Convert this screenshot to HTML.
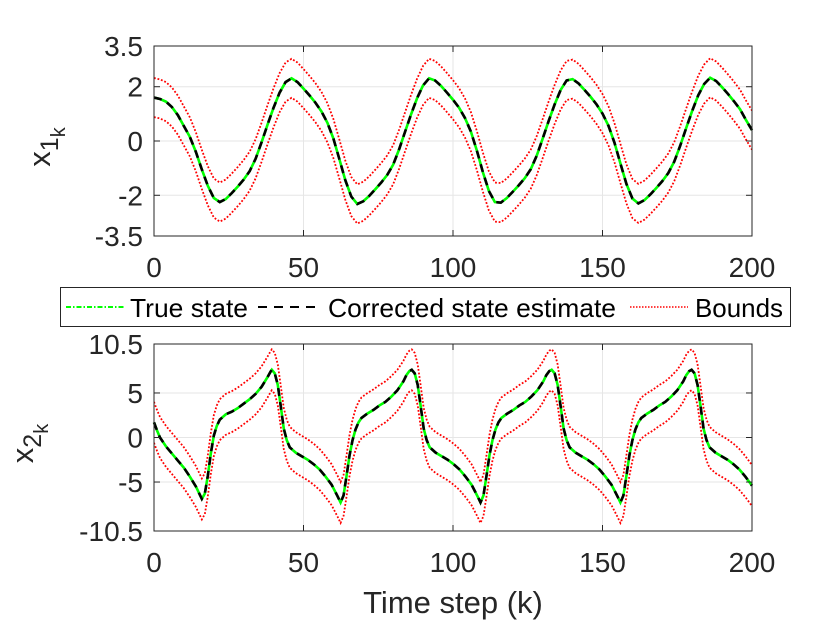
<!DOCTYPE html>
<html><head><meta charset="utf-8">
<style>
html,body{margin:0;padding:0;background:#fff;}
svg{display:block;font-family:"Liberation Sans",Arial,sans-serif;}
</style></head>
<body>
<svg id="chart" width="830" height="623" viewBox="0 0 830 623" xmlns="http://www.w3.org/2000/svg">
<rect width="830" height="623" fill="#fff"/>
<g id="p1"></g>
<g id="p2"></g>
<text x="453" y="613" font-size="31" text-anchor="middle" fill="#262626">Time step (k)</text>
<g>
<rect x="60.5" y="287.5" width="730" height="39" fill="#fff" stroke="#262626" stroke-width="1"/>
<g>
<line x1="66" y1="307" x2="125" y2="307" stroke="#00ff00" stroke-width="2" stroke-dasharray="5,2,1.5,2"/>
<text x="130" y="317" font-size="26" fill="#000" textLength="118" lengthAdjust="spacingAndGlyphs">True state</text></g>
<g>
<line x1="258" y1="307" x2="320" y2="307" stroke="#000" stroke-width="2" stroke-dasharray="9,7"/>
<text x="328" y="317" font-size="26" fill="#000" textLength="288" lengthAdjust="spacingAndGlyphs">Corrected state estimate</text></g>
<g>
<line x1="630" y1="307" x2="688" y2="307" stroke="#ff0000" stroke-width="1.5" stroke-dasharray="1.5,1.5"/>
<text x="695" y="317" font-size="26" fill="#000" textLength="88" lengthAdjust="spacingAndGlyphs">Bounds</text></g>
</g>
</svg>
<script>
// x1 data (sampled every 2 steps)
const x1Steps = [0,2,4,6,8,10,12,14,16,18,20,22,24,26,28,30,32,34,36,38,40,42,44,46,48,50,52,54,56,58,60,62,64,66,68,70,72,74,76,78,80,82,84,86,88,90,92,94,96,98,100,102,104,106,108,110,112,114,116,118,120,122,124,126,128,130,132,134,136,138,140,142,144,146,148,150,152,154,156,158,160,162,164,166,168,170,172,174,176,178,180,182,184,186,188,190,192,194,196,198,200];
const x1Values = [1.6,1.55,1.45,1.25,0.95,0.55,0.15,-0.4,-1.05,-1.65,-2.1,-2.25,-2.14,-1.92,-1.68,-1.42,-1.11,-0.65,-0.04,0.61,1.23,1.78,2.17,2.31,2.17,1.93,1.68,1.41,1.09,0.67,0.09,-0.67,-1.45,-2.05,-2.32,-2.22,-2.02,-1.78,-1.53,-1.25,-0.87,-0.3,0.35,0.99,1.58,2.05,2.31,2.23,2.03,1.78,1.52,1.23,0.85,0.34,-0.36,-1.15,-1.84,-2.25,-2.27,-2.1,-1.87,-1.63,-1.37,-1.04,-0.54,0.09,0.74,1.35,1.88,2.23,2.28,2.12,1.88,1.63,1.35,1.01,0.56,-0.06,-0.83,-1.58,-2.12,-2.3,-2.18,-1.97,-1.73,-1.48,-1.18,-0.76,-0.17,0.48,1.11,1.68,2.1,2.33,2.21,1.98,1.73,1.46,1.17,0.77,0.4];
const x1Bound = [0.72];
// x2 data
const x2Steps = [0,1,2,4,6,8,10,12,14,15,16,17,18,19,20,21,22,24,26,28,30,32,34,36,38,39,39.4,40.4,41.4,42.4,43.4,44.4,45.4,47.4,49.4,51.4,53.4,55.4,57.4,59.4,61.4,62.4,63.4,64.4,65.4,66.4,67.4,68.4,69.4,71.4,73.4,75.4,77.4,79.4,81.4,83.4,84.4,85.4,86.2,87.2,88.2,89.2,90.2,91.2,92.2,94.2,96.2,98.2,100.2,102.2,104.2,106.2,108.2,109.2,110.2,111.2,112.2,113.2,114.2,115.2,116.2,118.2,120.2,122.2,124.2,126.2,128.2,130.2,131.2,132.2,133,134,135,136,137,138,139,141,143,145,147,149,151,153,155,156,157,158,159,160,161,162,163,165,167,169,171,173,175,177,178,179,179.8,180.8,181.8,182.8,183.8,184.8,185.8,187.8,189.8,191.8,193.8,195.8,197.8,200];
const x2Values = [1.7,0.8,0,-1.0,-1.8,-2.6,-3.4,-4.4,-5.5,-6.2,-6.9,-6.3,-4.3,-1.8,0.2,1.3,2.0,2.6,2.9,3.3,3.8,4.3,4.9,5.7,6.8,7.4,7.6,7.2,5.9,3.5,1.0,-0.3,-1.1,-1.7,-2.1,-2.5,-3.0,-3.6,-4.4,-5.3,-6.6,-7.3,-6.5,-4.3,-2.0,-0.3,0.9,1.7,2.2,2.7,3.1,3.6,4.0,4.6,5.3,6.3,7.0,7.45,7.6,7.2,5.9,3.5,1.0,-0.3,-1.1,-1.7,-2.1,-2.5,-3.0,-3.6,-4.4,-5.3,-6.6,-7.3,-6.5,-4.3,-2.0,-0.3,0.9,1.7,2.2,2.7,3.1,3.6,4.0,4.6,5.3,6.3,7.0,7.45,7.6,7.2,5.9,3.5,1.0,-0.3,-1.1,-1.7,-2.1,-2.5,-3.0,-3.6,-4.4,-5.3,-6.6,-7.3,-6.5,-4.3,-2.0,-0.3,0.9,1.7,2.2,2.7,3.1,3.6,4.0,4.6,5.3,6.3,7.0,7.45,7.6,7.2,5.9,3.5,1.0,-0.3,-1.1,-1.7,-2.1,-2.5,-3.0,-3.6,-4.4,-5.4];
const x2Bound = [2.3];
const xTicks = [0,50,100,150,200];
const y1Ticks = [-3.5,-2,0,2,3.5];
const y1TickLabels = ["-3.5","-2","0","2","3.5"];
const y2Ticks = [-10.5,-5,0,5,10.5];
const y2TickLabels = ["-10.5","-5","0","5","10.5"];

const NS="http://www.w3.org/2000/svg";
function mk(tag,attrs,parent){const e=document.createElementNS(NS,tag);for(const k in attrs)e.setAttribute(k,attrs[k]);parent.appendChild(e);return e;}
const X0=154,X1=752;
function xs(k){return X0+(k-0)/(200-0)*(X1-X0);}

function drawPanel(g,top,bot,ymin,ymax,yt,ytl,steps,vals,bw,lab,labX){
  const ys=v=>bot-(v-ymin)/(ymax-ymin)*(bot-top);
  xTicks.forEach(t=>{const l=mk('line',{x1:xs(t),x2:xs(t),y1:top,y2:bot,stroke:'#e6e6e6','stroke-width':1},g);
    
    });
  yt.forEach(t=>{const l=mk('line',{x1:X0,x2:X1,y1:ys(t),y2:ys(t),stroke:'#e6e6e6','stroke-width':1},g);
    
    });
  const path=(arr)=>arr.map((v,i)=>(i?'L':'M')+xs(steps[i]).toFixed(2)+','+ys(v).toFixed(2)).join('');
  const up=vals.map(v=>v+bw[0]), lo=vals.map(v=>v-bw[0]);
  const clipId='c'+top;
  const cp=mk('clipPath',{id:clipId},g); mk('rect',{x:X0,y:top,width:X1-X0,height:bot-top},cp);
  const pu=mk('path',{d:path(up),fill:'none',stroke:'#ff0000','stroke-width':1.8,'stroke-dasharray':'1.8,1.8','clip-path':'url(#'+clipId+')'},g);
  
  
  const pl=mk('path',{d:path(lo),fill:'none',stroke:'#ff0000','stroke-width':1.8,'stroke-dasharray':'1.8,1.8','clip-path':'url(#'+clipId+')'},g);
  
  
  const pt=mk('path',{d:path(vals),fill:'none',stroke:'#00ff00','stroke-width':2.6},g);
  
  
  const pe=mk('path',{d:path(vals),fill:'none',stroke:'#000','stroke-width':2.6,'stroke-dasharray':'8,6'},g);
  
  
  const box=mk('rect',{x:X0,y:top,width:X1-X0,height:bot-top,fill:'none',stroke:'#262626','stroke-width':1},g);
  
  
  xTicks.forEach(t=>{
    mk('line',{x1:xs(t),x2:xs(t),y1:bot,y2:bot-6,stroke:'#262626'},g);
    mk('line',{x1:xs(t),x2:xs(t),y1:top,y2:top+6,stroke:'#262626'},g);
    const tx=mk('text',{x:xs(t),y:bot+41,'font-size':28,'text-anchor':'middle',fill:'#262626'},g);
    tx.textContent=t;
    
    
  });
  yt.forEach((t,i)=>{
    mk('line',{x1:X0,x2:X0+6,y1:ys(t),y2:ys(t),stroke:'#262626'},g);
    mk('line',{x1:X1,x2:X1-6,y1:ys(t),y2:ys(t),stroke:'#262626'},g);
    const tx=mk('text',{x:143,y:ys(t)+10,'font-size':28,'text-anchor':'end',fill:'#262626'},g);
    tx.textContent=ytl[i];
    
    
  });
  const cy=(top+bot)/2;
  const yl=mk('text',{transform:'translate('+labX+','+(cy+6)+') rotate(-90)','font-size':31,fill:'#262626','text-anchor':'middle'},g);
  
  
  yl.innerHTML='x<tspan font-size="25" dy="8">'+lab+'</tspan><tspan font-size="20" dy="7">k</tspan>';
}
drawPanel(document.getElementById('p1'),46,236,-3.5,3.5,y1Ticks,y1TickLabels,x1Steps,x1Values,x1Bound,'1',50);
drawPanel(document.getElementById('p2'),344,531,-10.5,10.5,y2Ticks,y2TickLabels,x2Steps,x2Values,x2Bound,'2',33);
</script>
</body></html>
